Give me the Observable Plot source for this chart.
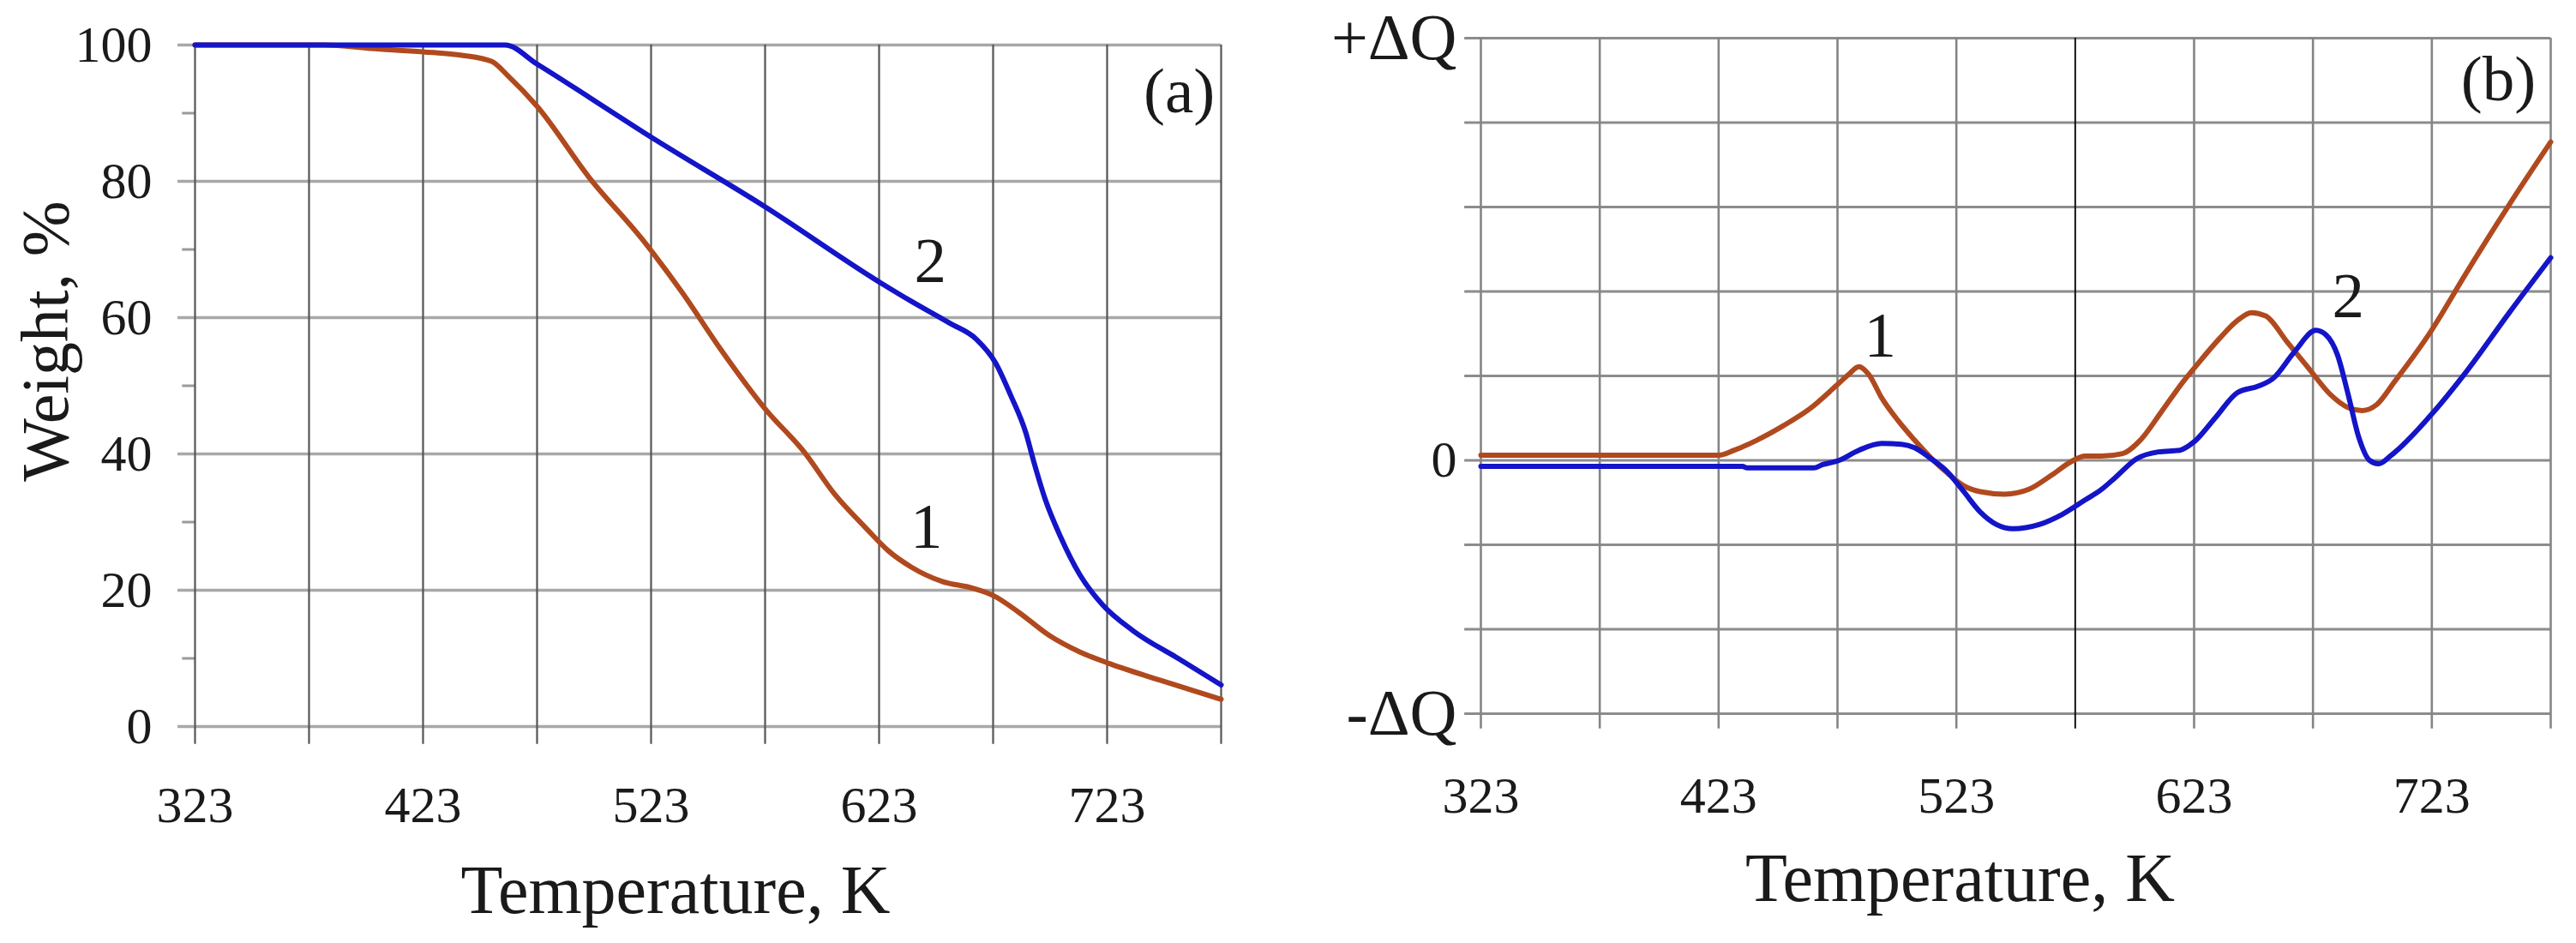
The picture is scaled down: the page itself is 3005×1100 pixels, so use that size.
<!DOCTYPE html>
<html>
<head>
<meta charset="utf-8">
<script src="https://cdn.jsdelivr.net/npm/d3@7"></script>
<script src="https://cdn.jsdelivr.net/npm/@observablehq/plot@0.6"></script>
<style>
  html, body { margin: 0; padding: 0; background: #fff; }
  #wrap { position: relative; width: 3005px; height: 1100px; background: #fff; overflow: hidden; }
  #wrap > div { position: absolute; top: 0; }
  #pa { left: 0; }
  #pb { left: 1500px; }
</style>
</head>
<body>
<div id="wrap"><div id="pa"></div><div id="pb"></div></div>
<script>
// ---------- shared axis data ----------
const tempTicks = [323, 423, 523, 623, 723];
const tempGrid = [323, 373, 423, 473, 523, 573, 623, 673, 723, 773];
const weightTicks = [0, 20, 40, 60, 80, 100];
const weightMinor = [10, 30, 50, 70, 90];
const dqGrid = [-3, -2, -1, 0, 1, 2, 3, 4, 5];
const dqLabelValues = [5, 0, -3];
const dqLabelTexts = ["+ΔQ", "0", "-ΔQ"];

// ---------- panel (a): TG, weight % ----------
const tgT1 = [323, 380, 400, 423, 440, 453, 460.5, 473, 496, 519.6, 536.4, 553.2, 573.3, 590.1, 603.5, 617, 627, 637.1, 650.5, 664, 673.2, 684.1, 697.5, 711, 724.4, 746.2, 773];
const tgW1 = [100, 100, 99.5, 99, 98.5, 97.6, 95.4, 91, 80.5, 71.3, 63.8, 55.5, 46.5, 40.3, 34.1, 29.2, 25.8, 23.4, 21.3, 20.3, 19.2, 16.8, 13.4, 10.95, 9.2, 6.8, 4.0];
const tgT2 = [323, 459, 473, 496, 519.6, 573.3, 623.7, 637.1, 653.9, 665.6, 674, 680.7, 687.4, 690.8, 695.8, 702.5, 711, 721, 734.4, 754.6, 773];
const tgW2 = [100, 100, 97.2, 92.3, 87.2, 76.2, 65.1, 62.4, 59.2, 56.85, 53.4, 48.6, 43.05, 38.9, 33.4, 27.9, 22.3, 17.85, 14.05, 9.9, 6.1];
const labelsAT = [645.5, 643.8, 754.6];
const labelsAV = [68.2, 29.2, 93.1];
const labelsAText = ["2", "1", "(a)"];

// ---------- panel (b): DTA, ΔQ (arbitrary units) ----------
const dtaT1 = [323, 423, 429.6, 439.2, 450.2, 461.3, 472.3, 477.8, 482, 486.1, 491.6, 498.5, 505.4, 512.3, 519.2, 526.1, 533, 543.3, 553.7, 563.3, 571.6, 577.1, 584, 592.9, 600.4, 609.5, 618.5, 623, 633.6, 641, 647.1, 653.1, 662.2, 671.2, 680.3, 687.8, 693.8, 699.8, 707.4, 722.4, 737.5, 755.6, 773];
const dtaQ1 = [0.06, 0.06, 0.12, 0.24, 0.41, 0.61, 0.88, 1.02, 1.11, 1.02, 0.74, 0.47, 0.24, 0.03, -0.15, -0.30, -0.37, -0.40, -0.34, -0.17, -0.01, 0.05, 0.05, 0.08, 0.24, 0.585, 0.935, 1.09, 1.44, 1.65, 1.75, 1.71, 1.40, 1.09, 0.78, 0.625, 0.59, 0.66, 0.935, 1.52, 2.22, 3.03, 3.77];
const dtaT2 = [323, 433, 435, 463, 466.8, 473.7, 482, 491.6, 499.9, 505.4, 512.3, 519.2, 526.1, 533, 539.9, 546.8, 557.8, 567.5, 577.1, 583.8, 590, 598.9, 608, 617, 623, 632.1, 641.1, 650.1, 656.2, 665.2, 674.2, 678.7, 683.3, 687.8, 692.3, 696.8, 700.6, 705.9, 722.4, 737.5, 755.6, 773];
const dtaQ2 = [-0.07, -0.07, -0.09, -0.09, -0.05, 0.0, 0.12, 0.20, 0.19, 0.15, 0.02, -0.135, -0.37, -0.61, -0.76, -0.81, -0.76, -0.64, -0.47, -0.35, -0.2, 0.02, 0.10, 0.12, 0.22, 0.51, 0.80, 0.88, 0.97, 1.285, 1.54, 1.48, 1.25, 0.78, 0.27, 0.0, -0.04, 0.06, 0.53, 1.05, 1.75, 2.4];
const labelsBT = [490.9, 687.8, 751];
const labelsBV = [1.47, 1.94, 4.51];
const labelsBText = ["1", "2", "(b)"];

// ---------- styling ----------
const BROWN = "#B04A1E";
const BLUE = "#1414C8";
const FONT = "'Liberation Serif', 'Times New Roman', 'DejaVu Serif', serif";

const pts = (xs, ys) => xs.map((x, i) => ({T: x, v: ys[i]}));
const lbls = (xs, ys, ts) => xs.map((x, i) => ({T: x, v: ys[i], t: ts[i]}));

const tgLine1 = pts(tgT1, tgW1);
const tgLine2 = pts(tgT2, tgW2);
const dtaLine1 = pts(dtaT1, dtaQ1);
const dtaLine2 = pts(dtaT2, dtaQ2);
const labelsA = lbls(labelsAT, labelsAV, labelsAText);
const labelsB = lbls(labelsBT, labelsBV, labelsBText);
const dqLabels = dqLabelValues.map((v, i) => ({v, t: dqLabelTexts[i]}));

const plotA = Plot.plot({
  width: 1500, height: 1100,
  marginLeft: 227, marginRight: 76, marginTop: 52, marginBottom: 253,
  x: {domain: [323, 773], axis: null},
  y: {domain: [0, 100], axis: null},
  style: {fontFamily: FONT, background: "#fff", color: "#1a1a1a", overflow: "visible"},
  marks: [
    Plot.ruleY(weightTicks, {x1: 315.5, x2: 773, stroke: "#a8a8a8", strokeWidth: 3.5}),
    Plot.ruleY(weightMinor, {x1: 317.5, x2: 323, stroke: "#9a9a9a", strokeWidth: 3}),
    Plot.ruleX(tempGrid, {y1: -2.6, y2: 100, stroke: "#555", strokeWidth: 2.2}),
    Plot.line(tgLine1, {x: "T", y: "v", stroke: BROWN, strokeWidth: 6, curve: "monotone-x"}),
    Plot.line(tgLine2, {x: "T", y: "v", stroke: BLUE, strokeWidth: 6, curve: "monotone-x"}),
    Plot.axisX({ticks: tempTicks, tickSize: 0, tickPadding: 69, fontSize: 60, label: null, tickFormat: d => String(d)}),
    Plot.axisY({ticks: weightTicks, tickSize: 0, tickPadding: 50, fontSize: 60, label: null, tickFormat: d => String(d)}),
    Plot.text(labelsA, {x: "T", y: "v", text: "t", fontSize: 75, fill: "#1a1a1a"}),
    Plot.text(["Temperature, K"], {text: d => d, frameAnchor: "bottom", textAnchor: "middle", lineAnchor: "middle", dx: -38, dy: 192, fontSize: 80, fill: "#1a1a1a"}),
    Plot.text(["Weight, %"], {text: d => d, frameAnchor: "left", textAnchor: "middle", lineAnchor: "middle", rotate: -90, dx: -173, dy: -52, fontSize: 78, fill: "#1a1a1a"})
  ]
});

const plotB = Plot.plot({
  width: 1505, height: 1100,
  marginLeft: 227, marginRight: 30, marginTop: 44, marginBottom: 268,
  x: {domain: [323, 773], axis: null},
  y: {domain: [-3, 5], axis: null},
  style: {fontFamily: FONT, background: "#fff", color: "#1a1a1a", overflow: "visible"},
  marks: [
    Plot.ruleY(dqGrid, {x1: 316.2, x2: 773, stroke: "#8c8c8c", strokeWidth: 3}),
    Plot.ruleX(tempGrid.filter(d => d !== 573), {y1: -3.18, y2: 5, stroke: "#858585", strokeWidth: 2.6}),
    Plot.ruleX(tempGrid.filter(d => d === 573), {y1: -3.18, y2: 5, stroke: "#111", strokeWidth: 2}),
    Plot.line(dtaLine1, {x: "T", y: "v", stroke: BROWN, strokeWidth: 6, curve: "monotone-x"}),
    Plot.line(dtaLine2, {x: "T", y: "v", stroke: BLUE, strokeWidth: 6, curve: "monotone-x"}),
    Plot.axisX({ticks: tempTicks, tickSize: 0, tickPadding: 73, fontSize: 60, label: null, tickFormat: d => String(d)}),
    Plot.text(dqLabels, {frameAnchor: "left", y: "v", text: "t", textAnchor: "end", lineAnchor: "middle", dx: -28, fontSize: d => d.t === "0" ? 60 : 76, fill: "#1a1a1a"}),
    Plot.text(labelsB, {x: "T", y: "v", text: "t", fontSize: 75, fill: "#1a1a1a"}),
    Plot.text(["Temperature, K"], {text: d => d, frameAnchor: "bottom", textAnchor: "middle", lineAnchor: "middle", dx: -65, dy: 193, fontSize: 80, fill: "#1a1a1a"})
  ]
});

document.getElementById("pa").appendChild(plotA);
document.getElementById("pb").appendChild(plotB);
</script>
</body>
</html>
